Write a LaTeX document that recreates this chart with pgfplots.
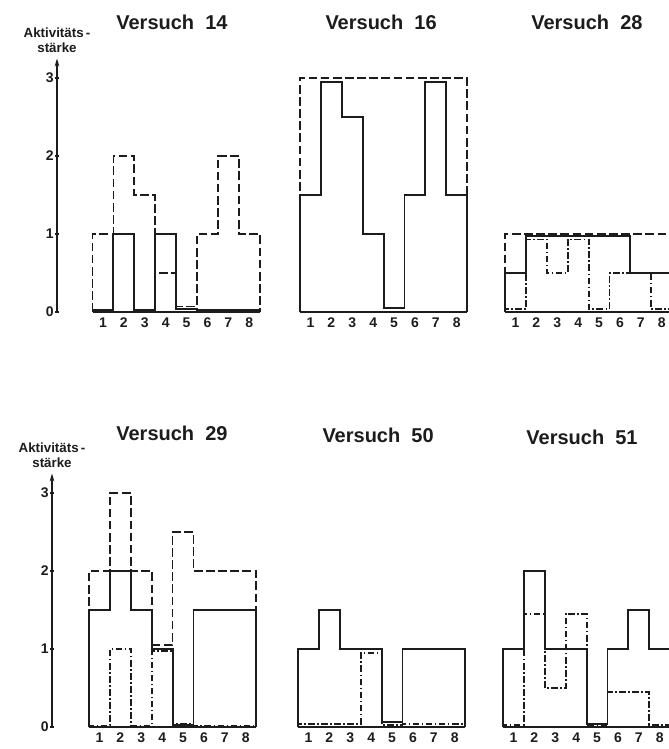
\documentclass[border=0pt]{standalone}
\usepackage{fontspec}
\setmainfont{Liberation Sans}
\usepackage{pgfplots}
\pgfplotsset{compat=1.18}
\usetikzlibrary{arrows.meta}

\definecolor{ink}{HTML}{1C1C1C}

\pgfplotsset{
  panel/.style={
    x=15.675pt, y=58.5pt,
    xmax=8.5, ymin=0, ymax=3.25,
    anchor=south west, clip=false,
    axis x line=bottom,
    x axis line style={draw=none},
    xtick={1,...,8}, xticklabels={1,2,3,4,5,6,7,8},
    xtick style={draw=none},
    minor xtick={1.5,2.5,...,7.5},
    minor tick length=2.5pt, major tick length=2.5pt,
    tick align=outside,
    minor x tick style={yshift=2.5pt, line width=0.8pt, ink},
    ticklabel style={font=\bfseries\fontsize{10.5}{12}\selectfont, text=ink},
    xticklabel style={yshift=2pt},
    every axis title/.style={at={(0.5,1)}, anchor=center,
      font=\bfseries\fontsize{15}{18}\selectfont, text=ink},
    const plot,
  },
  withy/.style={
    axis y line=left,
    y axis line style={ink, line width=0.9pt, -{Stealth[length=6pt,width=3.5pt]}},
    ytick={0,1,2,3}, yticklabels={0,1,2,3},
    ytick style={ink, line width=0.8pt},
    yticklabel style={inner sep=1pt},
    ylabel={Aktivitäts\,-\\stärke},
    every axis y label/.style={at={(axis description cs:0,1)}, anchor=south,
      align=center, font=\bfseries\fontsize{10}{11}\selectfont, text=ink, yshift=1pt},
  },
  noy/.style={axis y line=none, ytick=\empty},
  s/.style={ink, line width=1.4pt},
  d/.style={ink, line width=1.3pt, dash pattern=on 6.5pt off 2.6pt},
  dd/.style={ink, line width=1.4pt, dash pattern=on 5pt off 1.8pt on 1.2pt off 1.8pt},
  base/.style={ink, line width=1pt},
}

\begin{document}
\begin{tikzpicture}
\useasboundingbox (0,0) rectangle (501pt,561.75pt);

% Versuch 14
\begin{axis}[panel, withy, xmin=-1.2, at={(42.75pt,327.75pt)},
  title={Versuch\ \ 14}, title style={at={(0.567,1.144)}}]
  \addplot[base] coordinates {(0.5,0) (8.5,0)};
  \addplot[d] coordinates {(0.5,0) (0.5,1) (1.5,2) (2.5,1.5) (3.5,0.5) (4.5,0.07) (5.5,1) (6.5,2) (7.5,1) (8.5,1) (8.5,0)};
  \addplot[s] coordinates {(0.5,0) (0.5,0.03) (1.5,1) (2.5,0.03) (3.5,1) (4.5,0.04) (5.5,0.03) (6.5,0.03) (7.5,0.03) (8.5,0.03) (8.5,0)};
\end{axis}

% Versuch 16
\begin{axis}[panel, noy, xmin=0.5, at={(225pt,327.75pt)},
  title={Versuch\ \ 16}, title style={at={(0.485,1.144)}}]
  \addplot[base] coordinates {(0.5,0) (8.5,0)};
  \addplot[d] coordinates {(0.5,0) (0.5,3) (1.5,3) (2.5,3) (3.5,3) (4.5,3) (5.5,3) (6.5,3) (7.5,3) (8.5,3) (8.5,0)};
  \addplot[s] coordinates {(0.5,0) (0.5,1.5) (1.5,2.95) (2.5,2.5) (3.5,1) (4.5,0.05) (5.5,1.5) (6.5,2.95) (7.5,1.5) (8.5,1.5) (8.5,0)};
\end{axis}

% Versuch 28
\begin{axis}[panel, noy, xmin=0.5, at={(378.75pt,327.75pt)},
  title={Versuch\ \ 28}, title style={at={(0.49,1.144)}}]
  \addplot[base] coordinates {(0.5,0) (8.5,0)};
  \addplot[d] coordinates {(0.5,0) (0.5,1) (1.5,1) (2.5,1) (3.5,1) (4.5,1) (5.5,1) (6.5,1) (7.5,1) (8.5,1) (8.5,0)};
  \addplot[dd] coordinates {(0.5,0) (0.5,0.04) (1.5,0.93) (2.5,0.5) (3.5,0.93) (4.5,0.04) (5.5,0.5) (6.5,0.5) (7.5,0.04) (8.5,0.04) (8.5,0)};
  \addplot[s] coordinates {(0.5,0) (0.5,0.5) (1.5,0.97) (2.5,0.97) (3.5,0.97) (4.5,0.97) (5.5,0.97) (6.5,0.5) (7.5,0.5) (8.5,0.5) (8.5,0)};
\end{axis}

% Versuch 29
\begin{axis}[panel, withy, xmin=-1.27, at={(39pt,16.5pt)},
  title={Versuch\ \ 29}, title style={at={(0.5875,1.16)}}]
  \addplot[base] coordinates {(0.5,0) (8.5,0)};
  \addplot[d] coordinates {(0.5,0) (0.5,2) (1.5,3) (2.5,2) (3.5,1.05) (4.5,2.5) (5.5,2) (6.5,2) (7.5,2) (8.5,2) (8.5,0)};
  \addplot[dd] coordinates {(0.5,0) (0.5,0.02) (1.5,1) (2.5,0.02) (3.5,0.97) (4.5,0.04) (5.5,0.02) (6.5,0.02) (7.5,0.02) (8.5,0.02) (8.5,0)};
  \addplot[s] coordinates {(0.5,0) (0.5,1.5) (1.5,2) (2.5,1.5) (3.5,1) (4.5,0.03) (5.5,1.5) (6.5,1.5) (7.5,1.5) (8.5,1.5) (8.5,0)};
\end{axis}

% Versuch 50
\begin{axis}[panel, noy, xmin=0.5, at={(223.5pt,16.5pt)},
  title={Versuch\ \ 50}, title style={at={(0.479,1.152)}}]
  \addplot[base] coordinates {(0.5,0) (8.5,0)};
  \addplot[dd] coordinates {(0.5,0) (0.5,0.04) (1.5,0.04) (2.5,0.04) (3.5,0.95) (4.5,0.03) (5.5,0.04) (6.5,0.04) (7.5,0.04) (8.5,0.04) (8.5,0)};
  \addplot[s] coordinates {(0.5,0) (0.5,1) (1.5,1.5) (2.5,1) (3.5,1) (4.5,0.06) (5.5,1) (6.5,1) (7.5,1) (8.5,1) (8.5,0)};
\end{axis}

% Versuch 51
\begin{axis}[panel, noy, xmin=0.5, at={(377.25pt,16.5pt)},
  title={Versuch\ \ 51}, title style={at={(0.4725,1.144)}}]
  \addplot[base] coordinates {(0.5,0) (8.5,0)};
  \addplot[dd] coordinates {(0.5,0) (0.5,0.03) (1.5,1.45) (2.5,0.5) (3.5,1.45) (4.5,0.02) (5.5,0.45) (6.5,0.45) (7.5,0.03) (8.5,0.03) (8.5,0)};
  \addplot[s] coordinates {(0.5,0) (0.5,1) (1.5,2) (2.5,1) (3.5,1) (4.5,0.04) (5.5,1) (6.5,1.5) (7.5,1) (8.5,1) (8.5,0)};
\end{axis}
\end{tikzpicture}
\end{document}
